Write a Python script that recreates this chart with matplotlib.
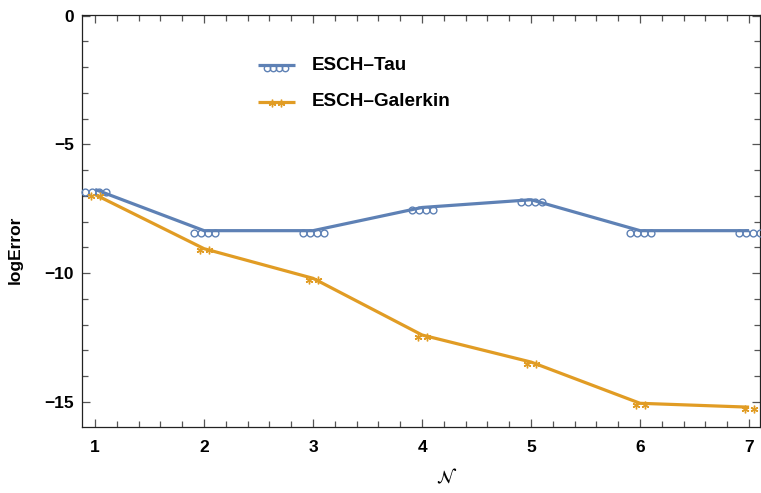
import matplotlib
matplotlib.use("Agg")
import matplotlib.pyplot as plt
from matplotlib.ticker import MultipleLocator
import matplotlib.transforms as mtransforms

N = [1, 2, 3, 4, 5, 6, 7]
tau = [-6.75, -8.35, -8.35, -7.45, -7.15, -8.35, -8.35]
galerkin = [-6.95, -9.05, -10.2, -12.4, -13.45, -15.05, -15.2]
series_names = ["ESCH\u2013Tau", "ESCH\u2013Galerkin"]

blue = "#5E81B5"
orange = "#E19C24"

plt.rcParams['font.family'] = ['Liberation Sans', 'DejaVu Sans']

fig = plt.figure(figsize=(7.61, 4.93), dpi=100)
ax = fig.add_axes([82/761, 1-427/493, 678/761, 412/493])

ax.plot(N, tau, color=blue, lw=2.3, solid_capstyle='butt', zorder=3)
ax.plot(N, galerkin, color=orange, lw=2.3, solid_capstyle='butt', zorder=3)

# text-like markers: four small circles for Tau, two stars for Galerkin
for dx in (-10.5, -3.5, 3.5, 10.5):
    tr = mtransforms.offset_copy(ax.transData, fig=fig, x=dx, y=-2.5, units='dots')
    ax.plot(N, tau, ls='none', marker='o', ms=4.9, mfc='none', mec=blue, mew=1.0,
            transform=tr, zorder=4, clip_on=False)
for dx in (-4.5, 4.5):
    tr = mtransforms.offset_copy(ax.transData, fig=fig, x=dx, y=-1.5, units='dots')
    ax.plot(N, galerkin, ls='none', marker=(6, 2, 0), ms=5.5, mec=orange, mew=1.0,
            transform=tr, zorder=4, clip_on=False)

ax.set_xlim(0.88, 7.1)
ax.set_ylim(-15.97, 0.02)
ax.xaxis.set_major_locator(MultipleLocator(1))
ax.xaxis.set_minor_locator(MultipleLocator(0.2))
ax.yaxis.set_major_locator(MultipleLocator(5))
ax.yaxis.set_minor_locator(MultipleLocator(1))
ax.tick_params(which='both', direction='in', top=True, right=True, color='#555555', width=0.9)
ax.tick_params(which='major', length=6)
ax.tick_params(which='minor', length=4)
ax.tick_params(axis='x', which='major', pad=9)
ax.tick_params(axis='y', which='major', pad=6)
for lab in ax.get_xticklabels():
    lab.set_fontsize(12.5)
    lab.set_fontweight('bold')
ax.set_yticks([0, -5, -10, -15])
ax.set_yticklabels(["0", "\u22125", "\u221210", "\u221215"], fontsize=12.5, fontweight='bold')
for s in ax.spines.values():
    s.set_color('#222222')
    s.set_linewidth(0.9)

ax.set_ylabel("logError", fontsize=12.5, fontweight='bold')
ax.yaxis.set_label_coords(-0.087, 0.43)
ax.set_xlabel(r"$\mathcal{N}$", fontsize=13)
ax.xaxis.set_label_coords(0.538, -0.100)

# legend
ly = [0.8786, 0.789]
for i, (name, col) in enumerate(zip(series_names, [blue, orange])):
    ax.plot([0.2596, 0.314], [ly[i], ly[i]], color=col, lw=2.3, transform=ax.transAxes,
            solid_capstyle='butt')
    ax.text(0.339, ly[i], name, transform=ax.transAxes, fontsize=13.6, fontweight='bold',
            va='center', ha='left')
for dx in (-9, -3, 3, 9):
    tr = mtransforms.offset_copy(ax.transAxes, fig=fig, x=dx, y=-2.5, units='dots')
    ax.plot([0.2868], [ly[0]], ls='none', marker='o', ms=4.6, mfc='none', mec=blue, mew=1.0, transform=tr)
for dx in (-4.5, 4.5):
    tr = mtransforms.offset_copy(ax.transAxes, fig=fig, x=dx, y=-1.5, units='dots')
    ax.plot([0.2868], [ly[1]], ls='none', marker=(6, 2, 0), ms=5.5, mec=orange, mew=1.0, transform=tr)

fig.savefig("out.png", dpi=100)
